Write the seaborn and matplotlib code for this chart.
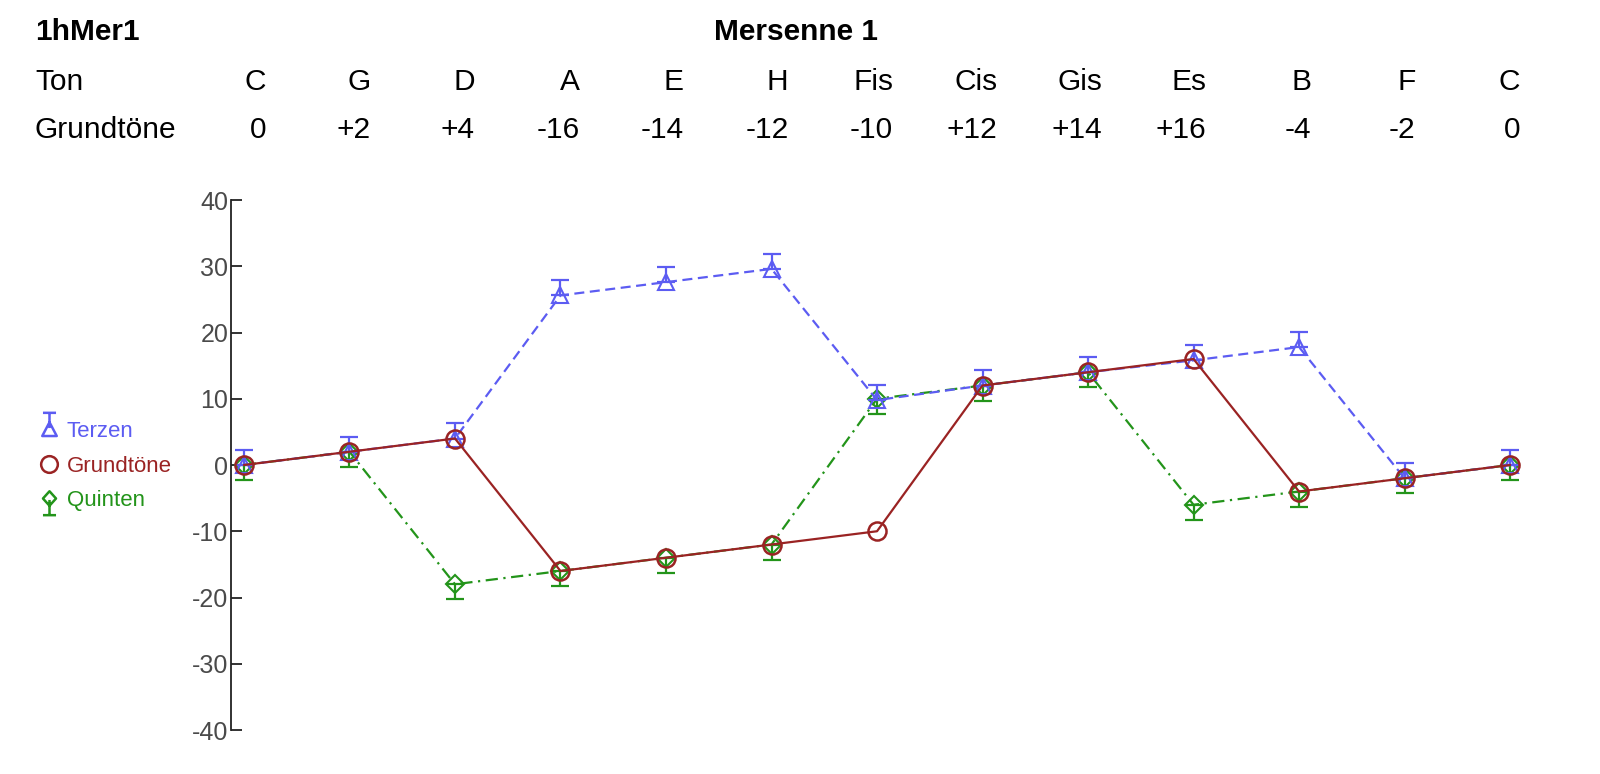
import numpy as np
import pandas as pd
import matplotlib
matplotlib.use("Agg")
import matplotlib.pyplot as plt
import seaborn as sns
from matplotlib.lines import Line2D
from matplotlib.path import Path

# --- data ------------------------------------------------------------------
tones = ["C", "G", "D", "A", "E", "H", "Fis", "Cis", "Gis", "Es", "B", "F", "C"]
grund_labels = ["0", "+2", "+4", "-16", "-14", "-12", "-10", "+12", "+14", "+16", "-4", "-2", "0"]

grundtoene = [0, 2, 4, -16, -14, -12, -10, 12, 14, 16, -4, -2, 0]
terzen = [0, 2, 4, 25.6, 27.6, 29.6, 9.8, 12, 14, 15.8, 17.8, -2, 0]
quinten = [0, 2, -18, -16, -14, -12, 10, 12, 14, -6, -4, -2, 0]
terzen_err = [2.3, 2.3, 2.3, 2.3, 2.3, 2.3, 2.3, 2.3, 2.3, 2.3, 2.3, 2.3, 2.3]
quinten_err = [2.3, 2.3, 2.3, 2.3, 2.3, 2.3, 2.3, 2.3, 2.3, 2.3, 2.3, 2.3, 2.3]

c_terz = "#5c5cf2"
c_grund = "#9a2323"
c_quint = "#23941a"

sns.set_style("white")
plt.rcParams["font.family"] = ["Liberation Sans", "DejaVu Sans"]
plt.rcParams["axes.unicode_minus"] = False

pos = np.arange(len(tones))
df = pd.DataFrame({"pos": pos, "Terzen": terzen, "Grundtöne": grundtoene,
                   "Quinten": quinten})

fig = plt.figure(figsize=(16, 7.74), dpi=100)
ax = fig.add_axes([231 / 1600, 1 - 730 / 774, (1528 - 231) / 1600, 530 / 774])

# Quinten (bottom), Terzen, Grundtöne (top)
sns.lineplot(data=df, x="pos", y="Quinten", ax=ax, color=c_quint, lw=1.6,
             marker="D", ms=9, mfc="none", mec=c_quint, mew=1.5,
             dashes=(5.5, 2.5, 1, 2.5), zorder=2)
ax.errorbar(pos, quinten, yerr=[quinten_err, np.zeros(len(pos))], fmt="none",
            ecolor=c_quint, elinewidth=1.6, capsize=6.5, capthick=1.6, zorder=2)

sns.lineplot(data=df, x="pos", y="Terzen", ax=ax, color=c_terz, lw=1.6,
             marker="^", ms=11, mfc="none", mec=c_terz, mew=1.5,
             dashes=(4.5, 2.5), zorder=3)
ax.errorbar(pos, terzen, yerr=[np.zeros(len(pos)), terzen_err], fmt="none",
            ecolor=c_terz, elinewidth=1.6, capsize=6.5, capthick=1.6, zorder=3)

sns.lineplot(data=df, x="pos", y="Grundtöne", ax=ax, color=c_grund, lw=1.6,
             marker="o", ms=13, mfc="none", mec=c_grund, mew=1.8, zorder=4)

ax.set_xlim(-0.123, 12.17)
ax.set_ylim(-40, 40)
ax.set_yticks([-40, -30, -20, -10, 0, 10, 20, 30, 40])
ax.set_xticks([])
ax.set_xlabel("")
ax.set_ylabel("")
sns.despine(ax=ax, bottom=True)
ax.spines["left"].set_color("#222222")
ax.spines["left"].set_linewidth(1.3)
ax.tick_params(axis="y", direction="in", length=8, width=1.3, color="#222222",
               labelsize=18, labelcolor="#4a4a4a", pad=2, left=True)

# --- header table ------------------------------------------------------------
hfs = 21.5
fig.text(35 / 1600, 1 - 32 / 774, "1hMer1", fontsize=hfs, fontweight="bold",
         ha="left", va="center", color="black")
fig.text(796 / 1600, 1 - 32 / 774, "Mersenne 1", fontsize=hfs, fontweight="bold",
         ha="center", va="center", color="black")
fig.text(35 / 1600, 1 - 82 / 774, "Ton", fontsize=hfs, ha="left", va="center",
         color="black")
fig.text(35 / 1600, 1 - 130 / 774, "Grundtöne", fontsize=hfs, ha="left",
         va="center", color="black")
for i, (t, g) in enumerate(zip(tones, grund_labels)):
    xr = (266 + i * 104.5) / 1600
    fig.text(xr, 1 - 82 / 774, t, fontsize=hfs, ha="right", va="center", color="black")
    fig.text(xr, 1 - 130 / 774, g, fontsize=hfs, ha="right", va="center", color="black")

# --- legend with marker + one-sided error bar symbols -------------------------
tri_up = Path([(-0.5, -0.45), (0.5, -0.45), (0, 0.5), (-0.5, -0.45),
               (0, 0.1), (0, 1.15), (-0.45, 1.15), (0.45, 1.15)],
              [Path.MOVETO, Path.LINETO, Path.LINETO, Path.CLOSEPOLY,
               Path.MOVETO, Path.LINETO, Path.MOVETO, Path.LINETO])
dia_down = Path([(0, 0.5), (0.45, 0), (0, -0.5), (-0.45, 0), (0, 0.5),
                 (0, -0.1), (0, -1.15), (-0.45, -1.15), (0.45, -1.15)],
                [Path.MOVETO, Path.LINETO, Path.LINETO, Path.LINETO, Path.CLOSEPOLY,
                 Path.MOVETO, Path.LINETO, Path.MOVETO, Path.LINETO])
handles = [
    Line2D([], [], ls="none", marker=tri_up, ms=24, mfc="none", mec=c_terz, mew=1.8),
    Line2D([], [], ls="none", marker="o", ms=12, mfc="none", mec=c_grund, mew=1.8),
    Line2D([], [], ls="none", marker=dia_down, ms=24, mfc="none", mec=c_quint, mew=1.8),
]
fig.legend(handles, ["Terzen", "Grundtöne", "Quinten"], loc="center left",
           bbox_to_anchor=(18 / 1600, 1 - 466 / 774), frameon=False,
           fontsize=16, handlelength=1.0, handletextpad=0.3, labelspacing=0.6,
           labelcolor=[c_terz, c_grund, c_quint])

fig.savefig("out.png", dpi=100, facecolor="white")
